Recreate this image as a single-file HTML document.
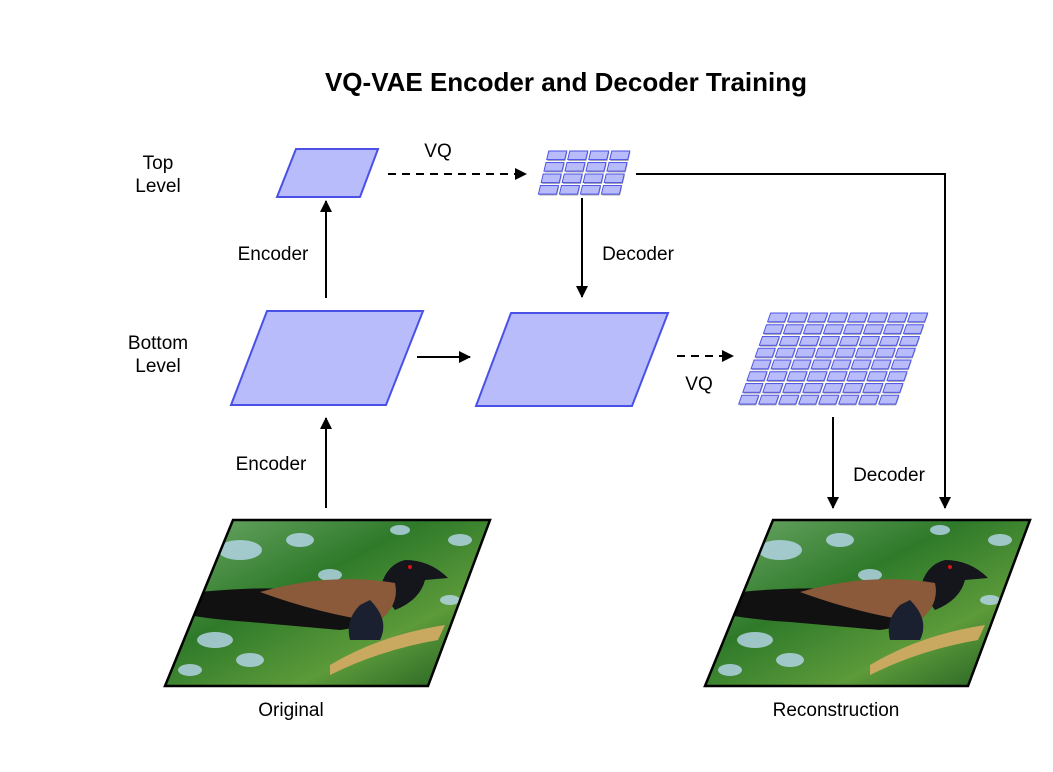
<!DOCTYPE html>
<html><head><meta charset="utf-8"><style>
body{margin:0;background:#fff;}
svg text{font-family:"Liberation Sans",sans-serif;font-size:19px;fill:#000}
</style></head><body>
<svg width="1053" height="767" viewBox="0 0 1053 767" xmlns="http://www.w3.org/2000/svg">
<defs>
<marker id="ah" markerWidth="12" markerHeight="12" refX="11" refY="6" orient="auto" markerUnits="userSpaceOnUse"><path d="M0,0 L12,6 L0,12 z" fill="#000"/></marker>
<pattern id="cellB" width="20" height="11.75" patternUnits="userSpaceOnUse">
<rect x="2" y="2.2" width="17" height="9" fill="#aaa"/>
<rect x="1" y="1" width="17" height="8.8" fill="#b9bcfb" stroke="#4b50e6" stroke-width="1"/>
</pattern>
<pattern id="cellT" width="21" height="11.5" patternUnits="userSpaceOnUse">
<rect x="2" y="2.2" width="18" height="8.8" fill="#aaa"/>
<rect x="1" y="1" width="18" height="8.6" fill="#b9bcfb" stroke="#4b50e6" stroke-width="1"/>
</pattern>
<linearGradient id="bg" x1="0" y1="0" x2="1" y2="1">
<stop offset="0" stop-color="#6faa6a"/><stop offset="0.4" stop-color="#2f7a2a"/><stop offset="0.7" stop-color="#5c9a3a"/><stop offset="1" stop-color="#1f5a20"/>
</linearGradient>
<clipPath id="pc"><polygon points="233,520 490,520 428,686 165,686"/></clipPath>
<g id="photo">
<polygon points="233,520 490,520 428,686 165,686" fill="url(#bg)"/>
<g clip-path="url(#pc)" fill="#b8d8ee" opacity="0.8">
<ellipse cx="240" cy="550" rx="22" ry="10"/><ellipse cx="300" cy="540" rx="14" ry="7"/>
<ellipse cx="330" cy="575" rx="12" ry="6"/><ellipse cx="460" cy="540" rx="12" ry="6"/>
<ellipse cx="215" cy="640" rx="18" ry="8"/><ellipse cx="250" cy="660" rx="14" ry="7"/>
<ellipse cx="400" cy="530" rx="10" ry="5"/><ellipse cx="190" cy="670" rx="12" ry="6"/>
<ellipse cx="450" cy="600" rx="10" ry="5"/>
</g>
<g clip-path="url(#pc)">
<path d="M170,595 Q260,585 300,590 L370,600 Q380,625 340,630 L250,622 Q190,618 170,610 Z" fill="#111"/>
<path d="M380,590 Q385,565 405,560 Q430,560 448,578 L425,580 Q420,600 395,610 Z" fill="#15151c"/>
<path d="M260,592 Q330,572 395,583 Q400,605 378,622 Q320,614 260,592 Z" fill="#8a5a3a"/>
<path d="M370,600 Q390,620 380,640 L350,640 Q345,620 360,605 Z" fill="#1a2030"/>
<circle cx="410" cy="567" r="2" fill="#d11"/>
<path d="M330,665 Q380,635 445,625 L438,640 Q380,650 330,675 Z" fill="#c9a860"/>
</g>
<polygon points="233,520 490,520 428,686 165,686" fill="none" stroke="#000" stroke-width="2.5"/>
</g>
</defs>

<text x="566" y="91" text-anchor="middle" font-weight="bold" style="font-size:26px">VQ-VAE Encoder and Decoder Training</text>

<text x="158" y="169" text-anchor="middle">Top</text>
<text x="158" y="192" text-anchor="middle">Level</text>
<text x="158" y="349" text-anchor="middle">Bottom</text>
<text x="158" y="372" text-anchor="middle">Level</text>

<polygon points="296,149 378,149 360,197 277,197" fill="#b9bcfb" stroke="#4b50e6" stroke-width="2"/>
<polygon points="267,311 423,311 386,405 231,405" fill="#b9bcfb" stroke="#4b50e6" stroke-width="2"/>
<polygon points="511,313 668,313 632,406 476,406" fill="#b9bcfb" stroke="#4b50e6" stroke-width="2"/>

<g transform="matrix(1 0 -0.24 1 548 150)"><rect x="0" y="0" width="84" height="46" fill="url(#cellT)"/></g>
<g transform="matrix(1 0 -0.351 1 770 312)"><rect x="0" y="0" width="160" height="94" fill="url(#cellB)"/></g>

<g stroke="#000" stroke-width="2" fill="none">
<line x1="326" y1="298" x2="326" y2="201" marker-end="url(#ah)"/>
<line x1="326" y1="508" x2="326" y2="418" marker-end="url(#ah)"/>
<line x1="417" y1="357" x2="470" y2="357" marker-end="url(#ah)"/>
<line x1="388" y1="174" x2="526" y2="174" stroke-dasharray="8,6" marker-end="url(#ah)"/>
<line x1="582" y1="198" x2="582" y2="297" marker-end="url(#ah)"/>
<line x1="677" y1="356" x2="733" y2="356" stroke-dasharray="8,6" marker-end="url(#ah)"/>
<line x1="833" y1="417" x2="833" y2="508" marker-end="url(#ah)"/>
<polyline points="636,174 945,174 945,508" marker-end="url(#ah)"/>
</g>

<text x="273" y="260" text-anchor="middle">Encoder</text>
<text x="271" y="470" text-anchor="middle">Encoder</text>
<text x="438" y="157" text-anchor="middle">VQ</text>
<text x="638" y="260" text-anchor="middle">Decoder</text>
<text x="699" y="390" text-anchor="middle">VQ</text>
<text x="889" y="481" text-anchor="middle">Decoder</text>

<use href="#photo"/>
<use href="#photo" transform="translate(540,0)"/>

<text x="291" y="716" text-anchor="middle">Original</text>
<text x="836" y="716" text-anchor="middle">Reconstruction</text>
</svg>
</body></html>
